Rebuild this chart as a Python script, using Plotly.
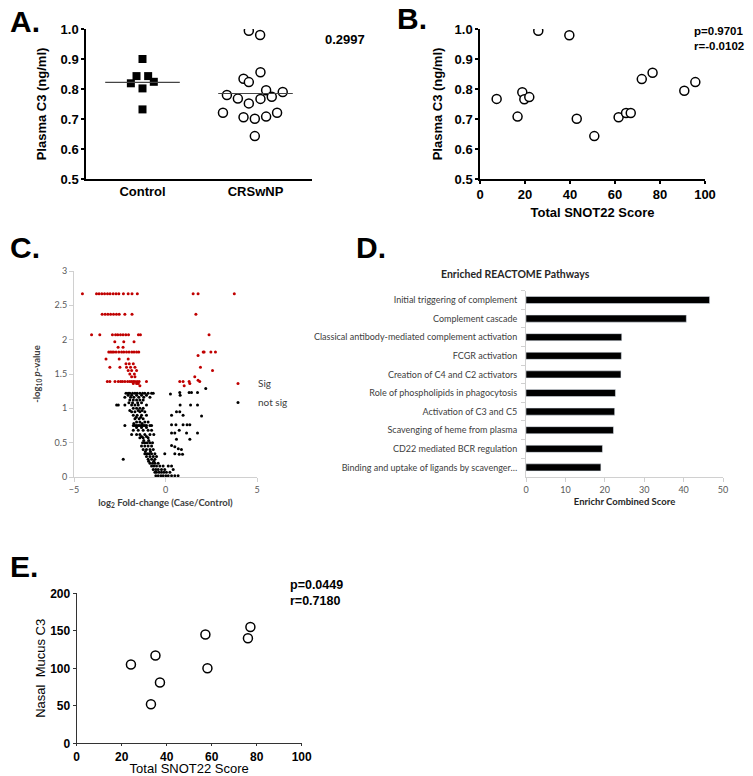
import plotly.graph_objects as go

# page offset of the plot div (browser default body margin) and figure size
OFF = 8
FW, FH = 745, 768


def px(x):
    return (x - OFF) / FW


def py(y):
    return 1 - (y - OFF) / FH


ARIAL = "Arial, Liberation Sans, sans-serif"
CAL = "Lato, Open Sans, sans-serif"

# ---------------- Panel A data ----------------
groups = ["Control", "CRSwNP"]
ctrl_vals = [0.900, 0.843, 0.843, 0.819, 0.824, 0.802, 0.732]
ctrl_jit = [0.0, -0.053, 0.050, -0.103, 0.100, 0.0, 0.0]
crs_vals = [0.994, 0.980, 0.856, 0.834, 0.823, 0.796, 0.790, 0.780, 0.768, 0.767,
            0.774, 0.752, 0.721, 0.721, 0.706, 0.701, 0.708, 0.643]
crs_jit = [-0.059, 0.041, 0.044, -0.106, -0.059, 0.094, 0.241, -0.253, -0.156, 0.044,
           0.144, -0.059, -0.288, 0.191, -0.106, -0.006, 0.094, -0.006]
group_medians = [0.822, 0.785]
p_value_a = "0.2997"

# ---------------- Panel B data ----------------
snot_b = [7.4, 16.7, 18.8, 19.7, 21.9, 25.9, 39.7, 43.0, 50.8, 61.6, 64.9, 67.0,
          71.9, 76.7, 90.8, 95.7]
c3_b = [0.767, 0.708, 0.789, 0.766, 0.773, 0.994, 0.979, 0.701, 0.643, 0.706, 0.720,
        0.720, 0.833, 0.854, 0.794, 0.823]

# ---------------- Panel C data (rows: -log10 p, list of log2 FC) ----------------
sig_rows = [
    (2.67, [-4.54, -3.77, -3.63, -3.48, -3.33, -3.17, -3.03, -2.86, -2.70, -2.55, -2.30,
            -2.04, -1.83, -1.54, 1.51, 1.78, 3.76]),
    (2.37, [-3.46, -3.30, -3.15, -3.00, -2.84, -2.68, -2.53, -2.22, -1.83, 1.66]),
    (2.07, [-4.04, -3.59, -2.90, -2.73, -2.61, -2.46, -2.32, -2.17, -2.02, -1.48, -1.37, 2.38]),
    (1.97, [-2.77, -2.28, -1.72]),
    (1.89, [-2.59, -2.32]),
    (1.82, [-3.10, -3.01, -2.92, -2.83, -2.70, -2.55, -2.40, -2.28, -2.13, -1.99, -1.84,
            -1.72, -1.58, -1.46, 2.06, 2.11, 2.48, 2.73]),
    (1.77, [1.78]),
    (1.72, [-3.25, -2.53, -2.04]),
    (1.65, [-2.16, -1.98, -1.76]),
    (1.60, [-3.04, -2.49, -2.13, -1.91, -1.67, 1.91]),
    (1.55, [-2.04, -1.85, -1.58, 2.57]),
    (1.50, [-1.95, -1.70]),
    (1.46, [-1.85, -1.67, 1.60]),
    (1.41, [1.78]),
    (1.39, [-3.18, -3.04, -2.76, -2.58, -2.45, -2.35, -2.22, -2.07, -1.95, -1.85, -1.76,
            -1.67, -1.55, -1.44, -1.04, 0.78, 0.96, 1.29, 1.87]),
    (1.36, [-1.76, -1.58, -1.49, 1.33]),
    (1.33, [-1.40, 1.02]),
]
ns_rows = [
    (1.29, [2.20]),
    (1.23, [0.78, 1.29, 1.42, 1.75]),
    (1.22, [-2.16, -2.04, -1.95, -1.80, -1.67, -1.55, -1.40, -1.25, -1.13, -0.95, -0.76, -0.67]),
    (1.21, [0.27]),
    (1.19, [-2.04, -1.85, -1.58, -1.31, -1.04, 0.80]),
    (1.16, [-2.22, -1.91, -1.73, -1.46, -1.19, -0.85]),
    (1.12, [-1.95, -1.76, -1.58, -1.40, -1.22]),
    (1.08, [-2.00, -1.80, -1.52, -1.31]),
    (1.05, [-2.67, -2.58, -2.22, -1.85, -1.67, -1.49, -1.04, 0.80, 1.37, 1.75]),
    (1.00, [-1.76, -1.58, -1.40, -1.22]),
    (0.97, [-1.95, -1.49, -1.28]),
    (0.95, [-1.85, -1.67, -1.40, -1.13, 0.60, 0.78]),
    (0.90, [-1.76, -1.55, -1.31, -1.04, 0.33, 0.96]),
    (0.89, [1.97]),
    (0.87, [-1.60, -1.35]),
    (0.85, [-1.67, -1.44, -1.22]),
    (0.80, [-1.58, -1.40, -1.13, -0.95]),
    (0.78, [-1.73, -1.28]),
    (0.76, [0.33, 0.57, 0.96, 1.18, 1.33]),
    (0.75, [-2.22, -1.76, -1.67, -1.58, -1.49, -1.40, -1.31, -1.22, -1.13, -1.04, -0.85, -0.76]),
    (0.72, [-1.58, -1.31, -1.04]),
    (0.68, [-1.76, -1.49, -1.22, -0.95, -0.76, 0.75]),
    (0.64, [0.33, 0.51, 1.15, 1.75]),
    (0.62, [-1.85, -1.58, -1.40, -1.13, -0.85, -0.64]),
    (0.59, [-1.31, -1.04]),
    (0.57, [-1.40, -1.22, -0.95]),
    (0.55, [0.60, 1.33]),
    (0.53, [-1.19, -0.92]),
    (0.50, [-1.25, -1.13, -1.00, -0.85, -0.71]),
    (0.46, [0.33]),
    (0.45, [-1.31, -1.13, -0.95, -0.76]),
    (0.44, [0.51]),
    (0.41, [0.70]),
    (0.40, [-1.22, -1.04, -0.85, -0.67, 0.87]),
    (0.37, [-1.10, -0.82]),
    (0.34, [-1.13, -1.00, -0.89, -0.76, -0.58, -0.04, 0.51]),
    (0.33, [0.75, 0.93]),
    (0.30, [-1.04, -0.85, -0.67, -0.49]),
    (0.26, [-2.31, -0.95, -0.76, -0.58]),
    (0.23, [-0.92, -0.64]),
    (0.20, [-0.85, -0.71, -0.58, -0.40]),
    (0.16, [-0.76, -0.64, -0.49, -0.31, -0.13, 0.15, 0.33]),
    (0.11, [-0.67, -0.53, -0.40, -0.22, -0.04, 0.42]),
    (0.07, [-0.58, -0.49, -0.35, -0.22, -0.09, 0.05, 0.24]),
    (0.02, [-0.53, -0.40, -0.25, -0.13, 0.02, 0.15, 0.33, 0.51, 0.69]),
]

# ---------------- Panel D data ----------------
pathways = [
    "Initial triggering of complement",
    "Complement cascade",
    "Classical antibody-mediated complement activation",
    "FCGR activation",
    "Creation of C4 and C2 activators",
    "Role of phospholipids in phagocytosis",
    "Activation of C3 and C5",
    "Scavenging of heme from plasma",
    "CD22 mediated BCR regulation",
    "Binding and uptake of ligands by scavenger…",
]
scores = [46.6, 40.7, 24.3, 24.2, 24.1, 22.7, 22.5, 22.2, 19.4, 19.0]

# ---------------- Panel E data ----------------
snot_e = [24.1, 35.0, 37.0, 33.0, 57.2, 58.1, 76.1, 77.2]
mucus_e = [105, 117, 81, 52, 145, 100, 140, 155]


def flatten(rows):
    xs, ys = [], []
    for yv, xl in rows:
        for xv in xl:
            xs.append(xv)
            ys.append(yv)
    return xs, ys


sig_x, sig_y = flatten(sig_rows)
ns_x, ns_y = flatten(ns_rows)

fig = go.Figure()

# Panel A
fig.add_trace(go.Scatter(
    x=[0 + j for j in ctrl_jit], y=ctrl_vals, mode="markers", xaxis="x", yaxis="y",
    marker=dict(symbol="square", size=8, color="black"), showlegend=False))
fig.add_trace(go.Scatter(
    x=[1 + j for j in crs_jit], y=crs_vals, mode="markers", xaxis="x", yaxis="y",
    marker=dict(symbol="circle", size=9, color="white", line=dict(color="black", width=1.5)),
    showlegend=False))
for i, m in enumerate(group_medians):
    fig.add_trace(go.Scatter(
        x=[i - 0.33, i + 0.33], y=[m, m], mode="lines", xaxis="x", yaxis="y",
        line=dict(color="#444", width=1.2), showlegend=False))

# Panel B
fig.add_trace(go.Scatter(
    x=snot_b, y=c3_b, mode="markers", xaxis="x2", yaxis="y2",
    marker=dict(symbol="circle", size=9, color="white", line=dict(color="black", width=1.5)),
    showlegend=False))

# Panel C
fig.add_trace(go.Scatter(
    x=sig_x, y=sig_y, mode="markers", xaxis="x3", yaxis="y3", name="Sig",
    marker=dict(size=3, color="#c00000"), showlegend=True))
fig.add_trace(go.Scatter(
    x=ns_x, y=ns_y, mode="markers", xaxis="x3", yaxis="y3", name="not sig",
    marker=dict(size=3, color="black"), showlegend=True))

# Panel D
fig.add_trace(go.Bar(
    x=scores, y=pathways, orientation="h", xaxis="x4", yaxis="y4",
    marker=dict(color="black"), width=0.38, showlegend=False))

# Panel E
fig.add_trace(go.Scatter(
    x=snot_e, y=mucus_e, mode="markers", xaxis="x5", yaxis="y5",
    marker=dict(symbol="circle", size=9, color="white", line=dict(color="black", width=1.5)),
    showlegend=False))

bold_tick = dict(family=ARIAL, size=13, color="black", weight="bold")
prism_common = dict(showgrid=False, zeroline=False, showline=True, linecolor="black",
                    linewidth=1.5, ticks="outside", ticklen=3, tickwidth=1.5,
                    tickcolor="black", tickfont=bold_tick, automargin=False)
e_common = {**prism_common, "linecolor": "#333", "linewidth": 1.2, "tickcolor": "#333",
            "tickwidth": 1.2, "tickfont": dict(family=ARIAL, size=12, color="black",
                                                weight="bold")}
excel_common = dict(showgrid=False, zeroline=False, showline=True, linecolor="#d0d0d0",
                    linewidth=1, ticks="outside", ticklen=4, tickcolor="#d0d0d0",
                    tickfont=dict(family=CAL, size=9, color="#595959"), automargin=False)

fig.update_layout(
    width=FW, height=FH, margin=dict(l=0, r=0, t=0, b=0, autoexpand=False),
    paper_bgcolor="white", plot_bgcolor="white",
    font=dict(family=ARIAL, color="black"),
    # Panel A
    xaxis=dict(domain=[px(86), px(312)], range=[-0.5, 1.5], anchor="y",
               **{**prism_common, "ticks": ""},
               tickvals=[0, 1], ticktext=groups),
    yaxis=dict(domain=[py(179), py(29)], range=[0.5, 1.0], dtick=0.1, tickformat=".1f",
               anchor="x", **prism_common,
               title=dict(text="Plasma C3 (ng/ml)", standoff=11,
                          font=dict(family=ARIAL, size=13, weight="bold"))),
    # Panel B
    xaxis2=dict(domain=[px(480), px(705)], range=[0, 100], dtick=20, anchor="y2",
                **prism_common,
                title=dict(text="Total SNOT22 Score", standoff=7,
                           font=dict(family=ARIAL, size=13, weight="bold"))),
    yaxis2=dict(domain=[py(179), py(29)], range=[0.5, 1.0], dtick=0.1, tickformat=".1f",
                anchor="x2", **prism_common,
                title=dict(text="Plasma C3 (ng/ml)", standoff=9,
                           font=dict(family=ARIAL, size=13, weight="bold"))),
    # Panel C
    xaxis3=dict(domain=[px(74), px(257)], range=[-5, 5], dtick=5, anchor="y3",
                **excel_common,
                title=dict(text="log<sub>2</sub> Fold-change (Case/Control)", standoff=5,
                           font=dict(family=CAL, size=9.5, color="#404040", weight="bold"))),
    yaxis3=dict(domain=[py(477), py(271)], range=[0, 3], dtick=0.5, anchor="x3",
                **excel_common,
                title=dict(text="-log<sub>10</sub> <i>p</i>-value", standoff=12,
                           font=dict(family=CAL, size=9.5, color="#404040", weight="bold"))),
    # Panel D
    xaxis4=dict(domain=[px(526), px(723)], range=[0, 50], dtick=10, anchor="y4",
                **excel_common,
                title=dict(text="Enrichr Combined Score", standoff=4,
                           font=dict(family=CAL, size=9.5, color="#262626", weight="bold"))),
    yaxis4=dict(domain=[py(476.7), py(290.7)], anchor="x4", autorange="reversed",
                showgrid=False, zeroline=False, showline=True, linecolor="#d0d0d0",
                ticks="outside", ticklen=4, tickcolor="#d0d0d0", tickson="boundaries",
                ticklabelstandoff=6, automargin=False,
                tickfont=dict(family=CAL, size=9, color="#404040")),
    # Panel E
    xaxis5=dict(domain=[px(76.7), px(301.7)], range=[0, 100], dtick=20, anchor="y5",
                **{**e_common, "ticklen": 2},
                title=dict(text="Total SNOT22 Score", standoff=4,
                           font=dict(family=ARIAL, size=13))),
    yaxis5=dict(domain=[py(743.3), py(593.3)], range=[0, 200], dtick=50, anchor="x5",
                **e_common,
                title=dict(text="Nasal  Mucus C3", standoff=1,
                           font=dict(family=ARIAL, size=13))),
    legend=dict(x=px(218), y=py(369), xanchor="left", yanchor="top",
                font=dict(family=CAL, size=10, color="#404040"),
                bgcolor="rgba(0,0,0,0)", itemwidth=30, tracegroupgap=0),
)

ann = []


def label(text, x, y, size=30, **kw):
    ann.append(dict(text=text, x=px(x), y=py(y), xref="paper", yref="paper",
                    xanchor="left", yanchor="middle", showarrow=False,
                    font=dict(family=ARIAL, size=size, color="black", weight="bold"), **kw))


label("A.", 8, 21)
label("B.", 395, 18)
label("C.", 8, 247)
label("D.", 354, 247)
label("E.", 8, 566)
label(p_value_a, 323, 40, size=13)
label("p=0.9701", 692, 31, size=11.5)
label("r=-0.0102", 692, 46, size=11.5)
label("p=0.0449", 288, 585, size=12.5)
label("r=0.7180", 288, 601, size=12.5)
ann.append(dict(text="Enriched REACTOME Pathways", x=px(516), y=py(274), xref="paper",
                yref="paper", xanchor="center", yanchor="middle", showarrow=False,
                font=dict(family=CAL, size=10.5, color="#262626", weight="bold")))
fig.update_layout(annotations=ann)

fig.write_html("out.html")
